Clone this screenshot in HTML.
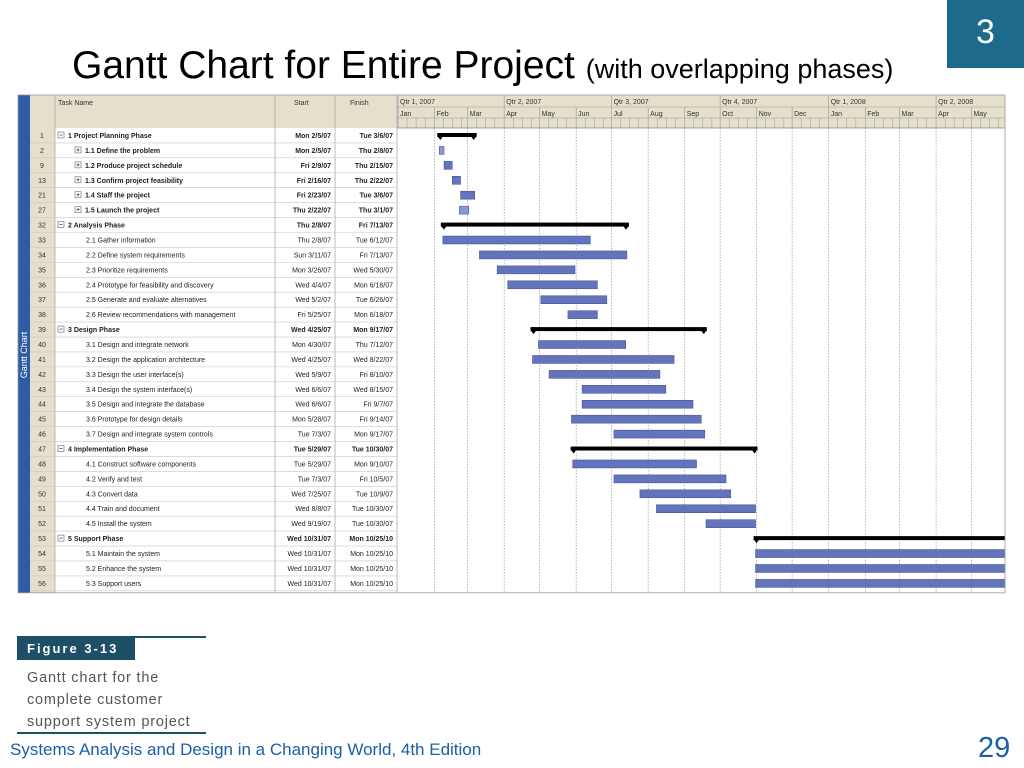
<!DOCTYPE html>
<html><head><meta charset="utf-8">
<style>
body{margin:0;width:1024px;height:768px;background:#fff;overflow:hidden;position:relative;font-family:"Liberation Sans",sans-serif}
.abs{position:absolute}
</style></head>
<body>
<div class="abs" style="left:947px;top:0;width:77px;height:68px;background:#1d6a8a;color:#fff;font-size:34px;text-align:center;line-height:64px">3</div>
<div class="abs" style="left:72px;top:44px;font-size:39px;color:#000;white-space:nowrap">Gantt Chart for Entire Project <span style="font-size:27px">(with overlapping phases)</span></div>
<svg class="abs" style="left:0;top:0" width="1024" height="768" id="chart"></svg>
<div class="abs" style="left:17px;top:636px;width:189px;height:2px;background:#1d4f66"></div>
<div class="abs" style="left:17px;top:638px;width:118px;height:22px;background:#1d4f66;color:#fff;font-weight:bold;font-size:13px;letter-spacing:2px;line-height:22px;padding-left:10px;box-sizing:border-box">Figure 3-13</div>
<div class="abs" style="left:27px;top:667px;font-size:14.5px;color:#555;line-height:22px;letter-spacing:0.8px">Gantt chart for the<br>complete customer<br>support system project</div>
<div class="abs" style="left:17px;top:732px;width:189px;height:2px;background:#1d4f66"></div>
<div class="abs" style="left:10px;top:740px;font-size:17px;color:#1a5fa8">Systems Analysis and Design in a Changing World, 4th Edition</div>
<div class="abs" style="left:978px;top:732px;font-size:29px;color:#1a5fa8">29</div>
<script>
const ids=[1,2,9,13,21,27,32,33,34,35,36,37,38,39,40,41,42,43,44,45,46,47,48,49,50,51,52,53,54,55,56];
const names=["1 Project Planning Phase","1.1 Define the problem","1.2 Produce project schedule","1.3 Confirm project feasibility","1.4 Staff the project","1.5 Launch the project","2 Analysis Phase","2.1 Gather information","2.2 Define system requirements","2.3 Prioritize requirements","2.4 Prototype for feasibility and discovery","2.5 Generate and evaluate alternatives","2.6 Review recommendations with management","3 Design Phase","3.1 Design and integrate network","3.2 Design the application architecture","3.3 Design the user interface(s)","3.4 Design the system interface(s)","3.5 Design and integrate the database","3.6 Prototype for design details","3.7 Design and integrate system controls","4 Implementation Phase","4.1 Construct software components","4.2 Verify and test","4.3 Convert data","4.4 Train and document","4.5 Install the system","5 Support Phase","5.1 Maintain the system","5.2 Enhance the system","5.3 Support users"];
const starts=["Mon 2/5/07","Mon 2/5/07","Fri 2/9/07","Fri 2/16/07","Fri 2/23/07","Thu 2/22/07","Thu 2/8/07","Thu 2/8/07","Sun 3/11/07","Mon 3/26/07","Wed 4/4/07","Wed 5/2/07","Fri 5/25/07","Wed 4/25/07","Mon 4/30/07","Wed 4/25/07","Wed 5/9/07","Wed 6/6/07","Wed 6/6/07","Mon 5/28/07","Tue 7/3/07","Tue 5/29/07","Tue 5/29/07","Tue 7/3/07","Wed 7/25/07","Wed 8/8/07","Wed 9/19/07","Wed 10/31/07","Wed 10/31/07","Wed 10/31/07","Wed 10/31/07"];
const finishes=["Tue 3/6/07","Thu 2/8/07","Thu 2/15/07","Thu 2/22/07","Tue 3/6/07","Thu 3/1/07","Fri 7/13/07","Tue 6/12/07","Fri 7/13/07","Wed 5/30/07","Mon 6/18/07","Tue 6/26/07","Mon 6/18/07","Mon 9/17/07","Thu 7/12/07","Wed 8/22/07","Fri 8/10/07","Wed 8/15/07","Fri 9/7/07","Fri 9/14/07","Mon 9/17/07","Tue 10/30/07","Mon 9/10/07","Fri 10/5/07","Tue 10/9/07","Tue 10/30/07","Tue 10/30/07","Mon 10/25/10","Mon 10/25/10","Mon 10/25/10","Mon 10/25/10"];
const levels=[0,1,1,1,1,1,0,2,2,2,2,2,2,0,2,2,2,2,2,2,2,0,2,2,2,2,2,0,2,2,2];
const quarters=["Qtr 1, 2007","Qtr 2, 2007","Qtr 3, 2007","Qtr 4, 2007","Qtr 1, 2008","Qtr 2, 2008"];
const months=["Jan","Feb","Mar","Apr","May","Jun","Jul","Aug","Sep","Oct","Nov","Dec","Jan","Feb","Mar","Apr","May"];

const NS="http://www.w3.org/2000/svg";
const svg=document.getElementById('chart');
function el(t,a,p){const e=document.createElementNS(NS,t);for(const k in a)e.setAttribute(k,a[k]);(p||svg).appendChild(e);return e;}
const X0=398,PXD=1.18,XR=1005;
function dayOf(s){const d=s.split(' ').pop().split('/');const dt=Date.UTC(2000+ +d[2],d[0]-1,+d[1]);return (dt-Date.UTC(2007,0,1))/86400000;}
function xOf(s){return X0+dayOf(s)*PXD;}
function monthX(i){return X0+(Date.UTC(2007,i,1)-Date.UTC(2007,0,1))/86400000*PXD;}
const TOP=95,HDR=128,RH=14.93;
function rowY(i){return HDR+i*RH;}
const B=rowY(ids.length)+2;
el('rect',{x:18,y:TOP,width:12,height:B-TOP,fill:'#2f5ca6'});
let gt=el('text',{x:0,y:0,fill:'#fff','font-size':9,'text-anchor':'middle',transform:'translate(27,355) rotate(-90)'});gt.textContent='Gantt Chart';

el('rect',{x:30,y:TOP,width:367,height:HDR-TOP,fill:'#e4e0cc'});
el('rect',{x:30,y:HDR,width:25,height:B-HDR,fill:'#e4e0cc'});
el('rect',{x:55,y:HDR,width:342,height:B-HDR,fill:'#fff'});
el('rect',{x:397,y:TOP,width:XR-397,height:HDR-TOP,fill:'#e4e0cc'});
[['Task Name',58],['Start',294],['Finish',350]].forEach(h=>{const t=el('text',{x:h[1],y:TOP+10,'font-size':7,fill:'#333'});t.textContent=h[0];});
[55,275,335,397].forEach(x=>el('line',{x1:x,y1:TOP,x2:x,y2:B,stroke:'#aaa','stroke-width':0.8}));
el('line',{x1:397,y1:TOP+12,x2:XR,y2:TOP+12,stroke:'#999','stroke-width':0.6});
el('line',{x1:397,y1:TOP+23,x2:XR,y2:TOP+23,stroke:'#999','stroke-width':0.6});
el('line',{x1:397,y1:HDR,x2:XR,y2:HDR,stroke:'#888','stroke-width':0.8});
quarters.forEach((q,i)=>{const x=monthX(i*3);el('line',{x1:x,y1:TOP,x2:x,y2:TOP+12,stroke:'#999','stroke-width':0.6});const t=el('text',{x:x+2,y:TOP+9,'font-size':7,fill:'#333'});t.textContent=q;});
months.forEach((m,i)=>{const x=monthX(i);el('line',{x1:x,y1:TOP+12,x2:x,y2:HDR,stroke:'#999','stroke-width':0.6});
 if(i>0)el('line',{x1:x,y1:HDR,x2:x,y2:B,stroke:'#888','stroke-width':0.6,'stroke-dasharray':'1.5,1.5'});
 const t=el('text',{x:x+2,y:TOP+21,'font-size':7,fill:'#333'});t.textContent=m;
 for(let k=1;k<4;k++){const xx=x+k*9.05;if(xx<XR)el('line',{x1:xx,y1:TOP+23,x2:xx,y2:HDR,stroke:'#999','stroke-width':0.5});}});
ids.forEach((id,i)=>{const y=rowY(i),cy=y+RH/2+2.5,sum=levels[i]===0,bold=levels[i]<2;
 el('line',{x1:30,y1:y+RH,x2:397,y2:y+RH,stroke:'#c8c8c8','stroke-width':0.6});
 const g=el('g',{});
 let t=el('text',{x:42,y:cy,'font-size':7,fill:'#333','text-anchor':'middle'},g);t.textContent=id;
 const ind=levels[i]===0?58:levels[i]===1?75:86;
 if(levels[i]<2){el('rect',{x:ind,y:y+4,width:6,height:6,fill:'#fff',stroke:'#666','stroke-width':0.6},g);el('line',{x1:ind+1.5,y1:y+7,x2:ind+4.5,y2:y+7,stroke:'#333','stroke-width':0.7},g);if(levels[i]==1)el('line',{x1:ind+3,y1:y+5.5,x2:ind+3,y2:y+8.5,stroke:'#333','stroke-width':0.7},g);}
 t=el('text',{x:levels[i]<2?ind+10:ind,y:cy,'font-size':7,fill:'#222','font-weight':bold?'bold':'normal'},g);t.textContent=names[i];
 t=el('text',{x:331,y:cy,'font-size':7,fill:'#222','text-anchor':'end','font-weight':bold?'bold':'normal'},g);t.textContent=starts[i];
 t=el('text',{x:393,y:cy,'font-size':7,fill:'#222','text-anchor':'end','font-weight':bold?'bold':'normal'},g);t.textContent=finishes[i];
 const x1=xOf(starts[i]),x2raw=xOf(finishes[i])+PXD,x2=Math.min(x2raw,XR);
 if(sum){const b=el('rect',{x:x1-2,y:y+5,width:(x2raw<XR?x2+2:XR)-(x1-2),height:4,fill:'#000'});
  el('polygon',{points:`${x1-2},${y+8} ${x1+4},${y+8} ${x1+1},${y+12}`,fill:'#000'});
  if(x2raw<XR)el('polygon',{points:`${x2-4},${y+8} ${x2+2},${y+8} ${x2-1},${y+12}`,fill:'#000'});}
 else{const b=el('rect',{x:x1,y:y+3.5,width:Math.max(x2-x1,3),height:8,fill:(id==2||id==27)?'#8b97cf':'#6374bd',stroke:'#3d4c94','stroke-width':0.5});}
});
el('rect',{x:18,y:TOP,width:XR-18,height:B-TOP,fill:'none',stroke:'#999','stroke-width':0.8});
</script>
</body></html>
